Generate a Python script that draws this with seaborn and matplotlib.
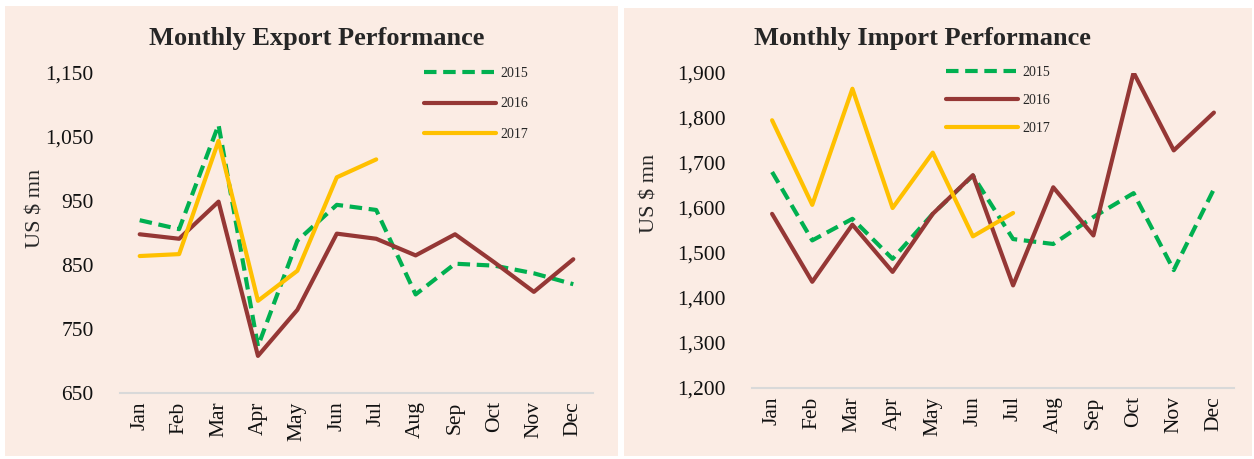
import pandas as pd
import matplotlib.pyplot as plt
import seaborn as sns
from matplotlib.patches import Rectangle

sns.set_style("white")
plt.rcParams["font.family"] = ["Liberation Serif", "DejaVu Serif"]

months = ["Jan", "Feb", "Mar", "Apr", "May", "Jun", "Jul", "Aug", "Sep", "Oct", "Nov", "Dec"]

# Exports, US $ mn
export_2015 = [920, 906, 1069, 723, 888, 944, 936, 804, 852, 849, 837, 820]
export_2016 = [898, 891, 949, 708, 780, 899, 891, 865, 898, 854, 808, 859]
export_2017 = [864, 867, 1044, 794, 841, 987, 1015]

# Imports, US $ mn
import_2015 = [1680, 1528, 1576, 1487, 1587, 1672, 1531, 1520, 1580, 1633, 1462, 1642]
import_2016 = [1587, 1436, 1563, 1458, 1587, 1673, 1428, 1646, 1539, 1901, 1728, 1812]
import_2017 = [1795, 1607, 1865, 1600, 1723, 1537, 1589]

years = ["2015", "2016", "2017"]
colors = {"2015": "#00B050", "2016": "#953735", "2017": "#FFC000"}
dashes = {"2015": (3, 1.6), "2016": "", "2017": ""}
bg = "#FBECE4"


def to_long(s15, s16, s17):
    rows = []
    for year, vals in zip(years, [s15, s16, s17]):
        for m, v in zip(months, vals):
            rows.append({"month": m, "value": v, "year": year})
    df = pd.DataFrame(rows)
    df["month"] = pd.Categorical(df["month"], categories=months, ordered=True)
    return df


exports = to_long(export_2015, export_2016, export_2017)
imports = to_long(import_2015, import_2016, import_2017)

fig = plt.figure(figsize=(12.54, 4.59), dpi=100)
fig.patch.set_facecolor("white")
W, H = 1254, 459

# peach panel backgrounds
fig.patches.append(Rectangle((5 / W, 1 - 456 / H), 613 / W, 450 / H,
                             transform=fig.transFigure, facecolor=bg, edgecolor="none", zorder=-10))
fig.patches.append(Rectangle((624 / W, 1 - 456 / H), 628 / W, 448 / H,
                             transform=fig.transFigure, facecolor=bg, edgecolor="none", zorder=-10))


def make_panel(rect, df, ylim, step, title, title_x, legend_anchor, legend_gap, ylabel_pos):
    ax = fig.add_axes(rect)
    ax.set_facecolor("none")
    sns.lineplot(data=df, x="month", y="value", hue="year", style="year",
                 palette=colors, dashes=dashes, linewidth=3, ax=ax,
                 sort=False, estimator=None)
    ax.set_xlim(-0.5, len(months) - 0.5)
    ax.set_ylim(*ylim)
    ax.set_yticks(range(ylim[0], ylim[1] + 1, step))
    ax.set_yticklabels([f"{v:,}" for v in range(ylim[0], ylim[1] + 1, step)], fontsize=15.5)
    ax.set_xticks(range(len(months)))
    ax.set_xticklabels(months, rotation=90, fontsize=15.5)
    ax.tick_params(axis="x", length=0, pad=6, colors="#111111")
    ax.tick_params(axis="y", length=0, pad=19, colors="#111111")
    for s in ["top", "right", "left"]:
        ax.spines[s].set_visible(False)
    ax.spines["bottom"].set_color("#D9D9D9")
    ax.spines["bottom"].set_linewidth(1.5)
    ax.set_xlabel("")
    ax.set_ylabel("US $ mn", fontsize=16)
    ax.yaxis.set_label_coords(*ylabel_pos)
    fig.text(title_x, 1 - 38 / H, title, fontsize=19, fontweight="bold",
             ha="center", va="center")
    ax.legend(loc="upper left", bbox_to_anchor=legend_anchor, frameon=False,
              fontsize=10, handlelength=5.2, labelspacing=legend_gap,
              handletextpad=0.3, borderaxespad=0)
    return ax


make_panel([120 / W, 1 - 393 / H, 473 / W, 320 / H], exports, (650, 1150), 100,
           "Monthly Export Performance", 317 / W, (0.63, 1.037), 1.28, (-0.157, 0.578))
make_panel([752 / W, 1 - 388 / H, 482 / W, 315 / H], imports, (1200, 1900), 100,
           "Monthly Import Performance", 922 / W, (0.39, 1.04), 1.08, (-0.191, 0.619))

fig.savefig("out.png", dpi=100, facecolor="white")
